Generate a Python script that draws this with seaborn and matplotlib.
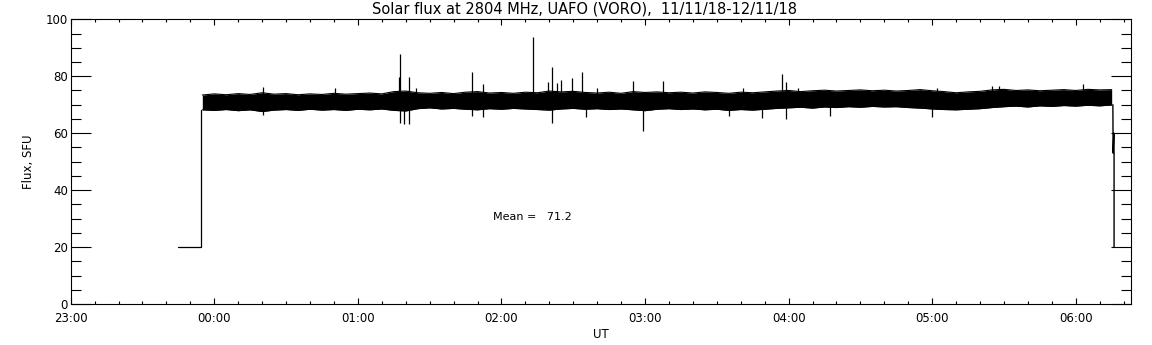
import numpy as np
import pandas as pd
import seaborn as sns
import matplotlib.pyplot as plt

# time in minutes from 00:00 UT
band_min = np.arange(-5, 376, 5)
band_hi = [73.4, 73.8, 73.5, 73.9, 73.6, 74.2, 73.7, 73.9, 73.5, 73.8,
           73.6, 74.0, 73.7, 73.9, 74.1, 73.8, 74.6, 74.8, 74.2, 74.0,
           74.3, 73.9, 74.4, 74.6, 74.1, 74.3, 74.0, 74.4, 74.2, 74.8,
           74.5, 74.7, 74.3, 74.1, 74.4, 74.0, 74.6, 74.3, 74.5, 74.2,
           74.4, 74.1, 74.5, 74.3, 74.0, 74.4, 74.2, 74.5, 74.8, 75.0,
           74.6, 74.9, 75.1, 74.8, 75.0, 75.2, 74.9, 75.1, 74.8, 75.0,
           75.3, 74.9, 74.6, 74.2, 74.5, 74.7, 75.2, 75.4, 75.0, 75.2,
           74.9, 75.1, 75.3, 75.0, 75.4, 75.2, 75.3]
band_lo = [68.2, 68.0, 68.3, 67.9, 68.2, 67.6, 68.1, 68.3, 68.0, 68.4,
           68.1, 68.3, 68.0, 68.4, 68.2, 68.5, 68.0, 67.8, 68.6, 68.9,
           68.5, 68.7, 68.4, 68.2, 68.6, 68.4, 68.7, 68.5, 68.3, 68.1,
           68.5, 68.7, 68.4, 68.6, 68.3, 68.5, 68.2, 67.9, 68.4, 68.6,
           68.3, 68.5, 68.2, 68.4, 68.0, 68.3, 68.1, 68.4, 68.7, 68.9,
           69.1, 68.8, 69.2, 69.0, 69.3, 69.1, 69.4, 69.2, 69.3, 69.0,
           68.8, 68.5, 68.3, 68.2, 68.4, 68.6, 69.0, 69.3, 69.5, 69.2,
           69.6, 69.4, 69.7, 69.5, 69.8, 69.6, 69.9]

spike_up_min = [20.5, 50.4, 77.0, 77.8, 81.4, 84.3, 107.8, 112.4, 133.3, 139.3,
                141.3, 143.2, 145.0, 149.4, 153.8, 160.0, 174.8, 187.6, 220.8,
                237.4, 239.0, 244.0, 302.0, 325.0, 328.0, 363.2]
spike_up_val = [76.3, 75.8, 79.6, 87.8, 79.8, 75.7, 81.5, 77.2, 93.8, 78.0,
                83.2, 77.5, 78.7, 79.5, 81.5, 76.0, 78.4, 78.2, 75.7,
                80.8, 78.0, 76.0, 76.0, 76.5, 76.5, 77.1]
spike_dn_min = [20.5, 77.8, 79.3, 81.4, 107.8, 112.4, 141.3, 155.3, 179.0,
                215.2, 228.8, 239.0, 257.2, 300.0]
spike_dn_val = [66.4, 63.5, 63.4, 63.1, 66.1, 65.7, 63.5, 65.7, 60.6,
                66.1, 65.5, 65.0, 66.1, 65.7]

lead_min = [-15.0, -5.4, -5.4]
lead_val = [20.0, 20.0, 68.2]
tail_min = [375.5, 375.6, 375.9, 376.0, 376.0]
tail_val = [70.0, 53.0, 60.0, 52.6, 20.0]

hour_labels = ['23:00', '00:00', '01:00', '02:00', '03:00', '04:00', '05:00', '06:00']
mean_flux = 71.2

sns.set_style('white')
plt.rcParams['font.family'] = ['DejaVu Sans']
plt.rcParams['text.color'] = 'black'
plt.rcParams['axes.labelcolor'] = 'black'

fig = plt.figure(figsize=(11.52, 3.45), dpi=100)
ax = fig.add_axes([70.7 / 1152, 41 / 345, (1131.3 - 70.7) / 1152, 284.7 / 345])

band = pd.DataFrame({'t': band_min / 60.0, 'hi': band_hi, 'lo': band_lo})
ax.fill_between(band['t'], band['lo'], band['hi'], color='black', lw=0)
sns.lineplot(data=band, x='t', y='hi', ax=ax, color='black', lw=0.8, estimator=None)
sns.lineplot(data=band, x='t', y='lo', ax=ax, color='black', lw=0.8, estimator=None)

ax.vlines(np.array(spike_up_min) / 60.0, 72, spike_up_val, color='black', lw=0.9)
ax.vlines(np.array(spike_dn_min) / 60.0, spike_dn_val, 70, color='black', lw=0.9)

edges = pd.DataFrame({'t': np.array(lead_min) / 60.0, 'v': lead_val})
sns.lineplot(data=edges, x='t', y='v', ax=ax, color='black', lw=0.9, sort=False, estimator=None)
edges = pd.DataFrame({'t': np.array(tail_min) / 60.0, 'v': tail_val})
sns.lineplot(data=edges, x='t', y='v', ax=ax, color='black', lw=1.0, sort=False, estimator=None)

ax.set_xlim(-1, 6 + 23.2 / 60)
ax.set_ylim(0, 100)
ax.set_xticks(range(-1, 7))
ax.set_xticklabels(hour_labels)
ax.set_xticks(np.arange(-1, 6.4, 1 / 6), minor=True)
ax.set_yticks(range(0, 101, 20))
ax.set_yticks(range(0, 101, 5), minor=True)

for s in ax.spines.values():
    s.set_color('black')
    s.set_linewidth(0.8)
ax.tick_params(axis='both', which='both', direction='in', color='black', width=0.8,
               top=True, right=True, bottom=True, left=True,
               labelsize=8.5, labelcolor='black')
ax.tick_params(axis='y', which='major', length=14.4, pad=2)
ax.tick_params(axis='y', which='minor', length=7.2)
ax.tick_params(axis='x', which='major', length=4.5, pad=6)
ax.tick_params(axis='x', which='minor', length=2.2)

ax.set_xlabel('UT', fontsize=8.5, labelpad=2)
ax.set_ylabel('Flux, SFU', fontsize=8.5, labelpad=8)
ax.text(1.94, 30.5, f'Mean =   {mean_flux}', fontsize=8, color='black', va='center')
fig.text(585 / 1152, 1 - 9 / 345, 'Solar flux at 2804 MHz, UAFO (VORO),  11/11/18-12/11/18',
         ha='center', va='center', fontsize=10.5, color='black')

fig.savefig('out.png', dpi=100)
